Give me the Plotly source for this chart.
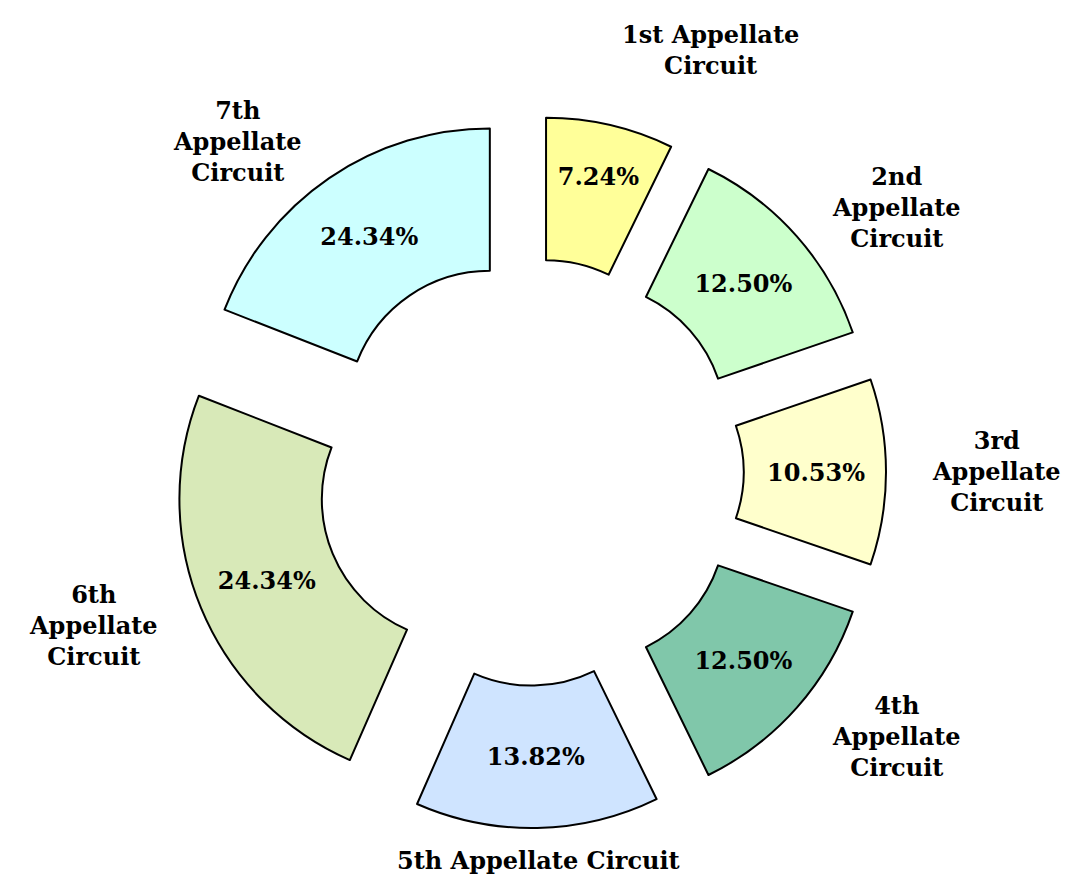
import math
import plotly.graph_objects as go

# ---- data ----
circuits = [
    "1st Appellate<br>Circuit",
    "2nd<br>Appellate<br>Circuit",
    "3rd<br>Appellate<br>Circuit",
    "4th<br>Appellate<br>Circuit",
    "5th Appellate Circuit",
    "6th<br>Appellate<br>Circuit",
    "7th<br>Appellate<br>Circuit",
]
counts = [11, 19, 16, 19, 21, 37, 29]
pct_labels = ["7.24%", "12.50%", "10.53%", "12.50%", "13.82%", "24.34%", "24.34%"]
slice_colors = ["#FFFF99", "#CCFFCC", "#FFFFCC", "#80C7AA", "#CFE4FF", "#D8E9B8", "#CCFFFF"]

# ---- layout geometry ----
W, H = 1069, 880
CX, CY = 522, 464        # pie centre in pixels
HALF = 356               # half-size of pie box (radius incl. pull)
PULL = 0.25
LABEL_R = 400            # radius of label anchors
FONT = "DejaVu Serif"

xdom = [(CX - HALF) / W, (CX + HALF) / W]
ydom = [1 - (CY + HALF) / H, 1 - (CY - HALF) / H]

fig = go.Figure()
fig.add_trace(go.Pie(
    labels=[c.replace("<br>", " ") for c in circuits],
    values=counts,
    text=pct_labels,
    textinfo="text",
    textposition="inside",
    insidetextorientation="horizontal",
    textfont=dict(family=FONT, size=24, color="black", weight="bold"),
    hole=0.5,
    pull=[PULL] * len(counts),
    sort=False,
    direction="clockwise",
    rotation=0,
    marker=dict(colors=slice_colors, line=dict(color="black", width=2)),
    domain=dict(x=xdom, y=ydom),
    showlegend=False,
    hoverinfo="label+text",
))

# outside labels placed along each slice's bisector
total = sum(counts)
cum = 0
annotations = []
for lab, v in zip(circuits, counts):
    theta = 2 * math.pi * (cum + v / 2) / total
    cum += v
    s, c = math.sin(theta), math.cos(theta)
    ax = CX + LABEL_R * s
    ay = min(CY - LABEL_R * c, H - 28)
    xanchor = "center" if abs(s) < 0.1 else ("left" if s > 0 else "right")
    yanchor = "bottom" if c > 0.9 else "middle"
    annotations.append(dict(
        x=ax / W, y=1 - ay / H, xref="paper", yref="paper",
        text=lab, showarrow=False, xanchor=xanchor, yanchor=yanchor,
        align="center",
        font=dict(family=FONT, size=24, color="black", weight="bold"),
    ))

fig.update_layout(
    width=W, height=H,
    margin=dict(l=0, r=0, t=0, b=0),
    paper_bgcolor="white",
    plot_bgcolor="white",
    uniformtext=dict(mode="show", minsize=24),
    annotations=annotations,
)

fig.write_html("out.html")
